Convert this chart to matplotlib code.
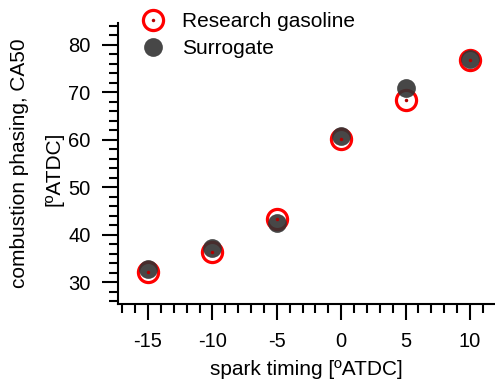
import matplotlib.pyplot as plt
from matplotlib.lines import Line2D
from matplotlib.ticker import MultipleLocator

plt.rcParams['font.family'] = ['Liberation Sans', 'DejaVu Sans']
plt.rcParams['axes.unicode_minus'] = False

# Data
spark_timing = [-15, -10, -5, 0, 5, 10]
research_gasoline = [32.1, 36.3, 43.3, 60.2, 68.3, 76.7]
surrogate = [32.7, 37.2, 42.4, 60.8, 70.8, 76.9]

fig = plt.figure(figsize=(4.95, 3.8), dpi=100)
ax = fig.add_axes([0.238, 0.2, 0.762, 0.74])

red = '#ff0000'
gray = '#333333'
dot = '#b00000'
ring_ms, ring_mew, gray_ms = 14.5, 2.3, 13.5

ax.plot(spark_timing, research_gasoline, 'o', ms=ring_ms, mfc='none', mec=red, mew=ring_mew, zorder=3)
ax.plot(spark_timing, surrogate, 'o', ms=gray_ms, mfc=gray, mec='none', alpha=0.9, zorder=4)
ax.plot(spark_timing, research_gasoline, 'o', ms=2.5, mfc=dot, mec='none', zorder=5)

ax.set_xlim(-17.35, 11.95)
ax.set_ylim(25.4, 84.6)
ax.xaxis.set_major_locator(MultipleLocator(5))
ax.xaxis.set_minor_locator(MultipleLocator(1))
ax.yaxis.set_major_locator(MultipleLocator(10))
ax.yaxis.set_minor_locator(MultipleLocator(2))

for s in ['top', 'right']:
    ax.spines[s].set_visible(False)
for s in ['left', 'bottom']:
    ax.spines[s].set_linewidth(1.5)

ax.tick_params(which='major', direction='out', length=11.5, width=1.5, labelsize=14.5)
ax.tick_params(which='minor', direction='out', length=6.5, width=1.5)
ax.tick_params(axis='x', which='major', pad=9)
ax.tick_params(axis='y', which='major', pad=8)

ax.set_xlabel('spark timing [ºATDC]', fontsize=15, labelpad=6)
fig.text(20 / 495, 0.57, 'combustion phasing, CA50', rotation=90, fontsize=15,
         ha='center', va='center')
fig.text(54 / 495, 0.555, '[ºATDC]', rotation=90, fontsize=15,
         ha='center', va='center')

ring_h = Line2D([], [], ls='none', marker='o', ms=ring_ms, mfc='none', mec=red, mew=ring_mew)
dot_h = Line2D([], [], ls='none', marker='o', ms=2.5, mfc=dot, mec='none')
gray_h = Line2D([], [], ls='none', marker='o', ms=gray_ms, mfc=gray, mec='none', alpha=0.9)
fig.legend([(ring_h, dot_h), gray_h], ['Research gasoline', 'Surrogate'], loc='upper left',
           bbox_to_anchor=(137 / 495, 1 - 12 / 380), frameon=False, fontsize=15,
           handlelength=1.5, handletextpad=0.65, labelspacing=0.4, borderaxespad=0,
           borderpad=0)

fig.savefig('out.png', dpi=100)
